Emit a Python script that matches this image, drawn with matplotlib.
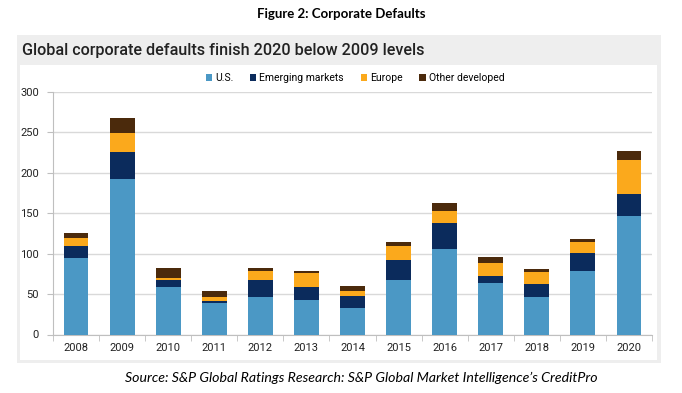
import numpy as np
import matplotlib.pyplot as plt
from matplotlib.patches import Rectangle

years = ['2008', '2009', '2010', '2011', '2012', '2013', '2014',
         '2015', '2016', '2017', '2018', '2019', '2020']
us = [95, 192, 59, 39, 47, 43, 33, 67, 106, 64, 47, 78, 146]
emerging = [15, 34, 8, 3, 21, 16, 15, 25, 32, 8, 16, 23, 28]
europe = [10, 23, 3, 4, 10, 17, 6, 17, 15, 16, 14, 13, 42]
other = [6, 19, 12, 8, 4, 3, 6, 5, 10, 8, 4, 4, 11]

series = [('U.S.', us, '#4b98c5'),
          ('Emerging markets', emerging, '#0b2b5c'),
          ('Europe', europe, '#fba91c'),
          ('Other developed', other, '#4b2a0c')]

W, H = 682, 393
fig = plt.figure(figsize=(W / 100, H / 100), dpi=100)

def px(x0, y0, x1, y1):
    # pixel box (top-left origin) -> figure fraction rect
    return (x0 / W, 1 - y1 / H, (x1 - x0) / W, (y1 - y0) / H)

# grey panel behind the chart
x, y, w, h = px(17, 35, 661, 363)
fig.patches.append(Rectangle((x, y), w, h, transform=fig.transFigure,
                             facecolor='#eeeeee', edgecolor='none', zorder=-2))
x, y, w, h = px(20, 65, 657, 360)
fig.patches.append(Rectangle((x, y), w, h, transform=fig.transFigure,
                             facecolor='white', edgecolor='none', zorder=-1))

fig.text(341 / W, 1 - 14 / H, 'Figure 2: Corporate Defaults', ha='center', va='center',
         fontsize=9.5, fontweight='bold', family='Lato')
fig.text(22 / W, 1 - 50 / H, 'Global corporate defaults finish 2020 below 2009 levels',
         ha='left', va='center', fontsize=11.6, fontweight='medium', family='Roboto',
         color='#222222')
fig.text(361 / W, 1 - 378 / H,
         'Source: S&P Global Ratings Research: S&P Global Market Intelligence\u2019s CreditPro',
         ha='center', va='center', fontsize=10.2, style='italic', family='Lato')

ax = fig.add_axes(px(53, 92, 652, 334.5))
ax.set_facecolor('none')
idx = np.arange(len(years))
bottom = np.zeros(len(years))
for name, vals, col in series:
    ax.bar(idx, vals, width=0.54, bottom=bottom, color=col, label=name, zorder=3)
    bottom += np.array(vals)

ax.set_xlim(-0.5, len(years) - 0.5)
ax.set_ylim(0, 300)
ax.set_yticks(range(0, 301, 50))
ax.set_xticks(idx)
ax.set_xticklabels(years)
ax.set_xticks(np.arange(-0.5, len(years), 1), minor=True)
ax.tick_params(axis='x', which='major', length=0, pad=6)
ax.tick_params(axis='x', which='minor', length=4, color='#bfbfbf', direction='out')
ax.tick_params(axis='y', length=4, color='#bfbfbf', pad=6)
for lab in ax.get_xticklabels() + ax.get_yticklabels():
    lab.set_family('Roboto')
    lab.set_fontsize(8)
    lab.set_color('#222222')

ax.grid(axis='y', color='#d9d9d9', linewidth=1, zorder=0)
for s in ['top', 'right']:
    ax.spines[s].set_visible(False)
for s in ['left', 'bottom']:
    ax.spines[s].set_color('#bfbfbf')

ax.legend(loc='center', bbox_to_anchor=(355 / W, 1 - 78 / H), bbox_transform=fig.transFigure,
          ncol=4, frameon=False, handlelength=0.6, handleheight=0.6, handletextpad=0.3,
          columnspacing=1.6, prop={'family': 'Roboto', 'size': 7.5})

fig.savefig('out.png', dpi=100)
